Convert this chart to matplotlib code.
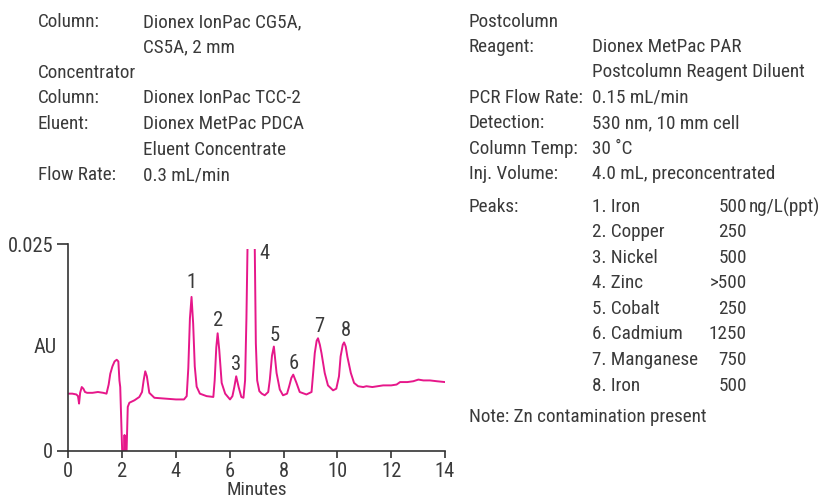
import matplotlib
matplotlib.use("Agg")
import matplotlib.pyplot as plt
from matplotlib import font_manager
from matplotlib.patches import Rectangle

# pick the narrowest available sans family
available = {f.name for f in font_manager.fontManager.ttflist}
family = "DejaVu Sans"
for cand in ["Liberation Sans Narrow", "Roboto Condensed", "Open Sans Condensed",
             "Noto Sans Condensed", "Roboto", "Liberation Sans"]:
    if cand in available:
        family = cand
        break
plt.rcParams['font.family'] = [family, 'DejaVu Sans']

# ---- chromatogram trace (minutes, AU) ----
time_min = [0.00, 0.15, 0.30, 0.36, 0.40, 0.44, 0.50, 0.56, 0.62, 0.70, 0.90, 1.10, 1.30, 1.42,
            1.50, 1.56, 1.64, 1.72, 1.80, 1.86, 1.90, 1.93, 2.02, 2.06, 2.09, 2.12, 2.15, 2.21,
            2.27, 2.46, 2.64, 2.74, 2.80, 2.86, 2.92, 3.01, 3.20, 3.60, 4.00, 4.30, 4.40,
            4.46, 4.52, 4.58, 4.64, 4.70, 4.77, 4.89, 5.14, 5.39, 5.44, 5.50, 5.55, 5.61,
            5.70, 5.83, 6.01, 6.10, 6.17, 6.24, 6.33, 6.43, 6.51, 6.57, 6.62, 6.66, 6.72,
            6.80, 6.88, 6.93, 6.97, 7.02, 7.10, 7.19, 7.30, 7.43, 7.49, 7.57, 7.64, 7.74,
            7.86, 7.98, 8.13, 8.21, 8.29, 8.36, 8.48, 8.60, 8.85, 9.04, 9.10, 9.16, 9.23,
            9.28, 9.35, 9.41, 9.53, 9.65, 9.84, 9.96, 10.06, 10.12, 10.20, 10.25, 10.31,
            10.37, 10.50, 10.62, 10.77, 10.96, 11.08, 11.30, 11.50, 11.70, 12.00, 12.20,
            12.33, 12.60, 12.82, 13.01, 13.20, 13.44, 13.70, 14.00]
au = [0.0069, 0.0069, 0.0068, 0.0066, 0.0057, 0.0070, 0.0077, 0.0075, 0.0071, 0.0070, 0.0070,
      0.0071, 0.0070, 0.0069, 0.0080, 0.0093, 0.0102, 0.0108, 0.0110, 0.0108, 0.0085, 0.0077,
      -0.002, -0.002, 0.0019, -0.002, -0.002, 0.0053, 0.0058, 0.0061, 0.0065, 0.0071, 0.0085,
      0.0096, 0.0090, 0.0070, 0.0064, 0.0063, 0.0062, 0.0062, 0.0066, 0.0100, 0.0160, 0.0186,
      0.0154, 0.0102, 0.00775, 0.0069, 0.0066, 0.0065, 0.0085, 0.0125, 0.0142, 0.0122, 0.0082,
      0.0069, 0.0062, 0.0066, 0.0077, 0.0090, 0.0077, 0.0065, 0.0064, 0.0085, 0.0160, 0.0245,
      0.0350, 0.0500, 0.0350, 0.0245, 0.0130, 0.0085, 0.0072, 0.0069, 0.0067, 0.0071, 0.0086,
      0.0115, 0.0126, 0.0094, 0.0074, 0.0067, 0.0069, 0.0078, 0.0088, 0.0092, 0.0082, 0.0071,
      0.0068, 0.0071, 0.0094, 0.0118, 0.0133, 0.0136, 0.0128, 0.0118, 0.0094, 0.0079, 0.0073,
      0.0075, 0.0090, 0.0114, 0.0128, 0.0131, 0.0126, 0.0114, 0.0094, 0.0082, 0.0078, 0.0077,
      0.0078, 0.0077, 0.0078, 0.0079, 0.0079, 0.0080, 0.0083, 0.0083, 0.0084, 0.0086, 0.0085,
      0.0085, 0.0084, 0.0083]

# ---- peak labels ----
peak_names = ["1", "2", "3", "4", "5", "6", "7", "8"]
peak_label_t = [4.58, 5.57, 6.23, 7.30, 7.68, 8.36, 9.33, 10.32]
peak_label_au = [0.0203, 0.0157, 0.0104, 0.0239, 0.0139, 0.0106, 0.0150, 0.0145]

x_ticks = [0, 2, 4, 6, 8, 10, 12, 14]
y_ticks = [0, 0.025]
y_tick_labels = ["0", "0.025"]

# ---- condition text ----
left_labels = ["Column:", "", "Concentrator", "Column:", "Eluent:", "", "Flow Rate:"]
left_values = ["Dionex IonPac CG5A,", "CS5A, 2 mm", "", "Dionex IonPac TCC-2",
               "Dionex MetPac PDCA", "Eluent Concentrate", "0.3 mL/min"]
left_rows_y = [22, 47, 73, 98, 124, 150, 175]

right_labels = ["Postcolumn", "Reagent:", "", "PCR Flow Rate:", "Detection:", "Column Temp:",
                "Inj. Volume:", "Peaks:"]
right_values = ["", "Dionex MetPac PAR", "Postcolumn Reagent Diluent", "0.15 mL/min",
                "530 nm, 10 mm cell", "30 \u02daC", "4.0 mL, preconcentrated", ""]
right_rows_y = [22, 47, 72, 98, 123, 149, 174, 207]

peak_list = ["1. Iron", "2. Copper", "3. Nickel", "4. Zinc", "5. Cobalt", "6. Cadmium",
             "7. Manganese", "8. Iron"]
peak_amounts = ["500", "250", "500", ">500", "250", "1250", "750", "500"]
peak_rows_y = [207, 232, 258, 283, 309, 334, 360, 386]
amount_unit = "ng/L(ppt)"
note_text = "Note: Zn contamination present"

W, H = 820, 498
fig = plt.figure(figsize=(W / 100, H / 100), dpi=100)
fig.patch.set_facecolor("white")

# size the text so that a reference string has the width it has in the picture (159 px)
renderer = fig.canvas.get_renderer()
probe = fig.text(0, 0, "Dionex IonPac CG5A,", fontsize=10)
w10 = probe.get_window_extent(renderer).width
probe.remove()
fs = min(15.0, 10 * 159.0 / w10)

ax = fig.add_axes([68.3 / W, 47.3 / H, (445 - 68.3) / W, (450.7 - 244) / H])
ax.set_xlim(0, 14)
ax.set_ylim(0, 0.025)

line, = ax.plot(time_min, au, color="#E6178A", lw=1.4, solid_joinstyle="round")
clip = Rectangle((0, 0), 14, 0.02437, transform=ax.transData, facecolor="none", edgecolor="none")
line.set_clip_path(clip)

txt_color = "#3a3a3a"
for name, t, a in zip(peak_names, peak_label_t, peak_label_au):
    ax.text(t, a, name, ha="center", va="center", fontsize=fs + 1, color=txt_color)

for s in ["top", "right"]:
    ax.spines[s].set_visible(False)
for s in ["left", "bottom"]:
    ax.spines[s].set_color("#333333")
    ax.spines[s].set_linewidth(1.2)
ax.set_xticks(x_ticks)
ax.set_xticklabels([str(v) for v in x_ticks])
ax.set_yticks(y_ticks)
ax.set_yticklabels(y_tick_labels)
ax.tick_params(axis="x", direction="out", length=5, width=1.2, pad=3, labelsize=fs + 1,
               colors="#333333", labelcolor=txt_color)
ax.tick_params(axis="y", direction="out", length=8, width=1.2, pad=3, labelsize=fs + 1,
               colors="#333333", labelcolor=txt_color)
ax.set_xlabel("Minutes", fontsize=fs, color=txt_color, va="top")
ax.xaxis.set_label_coords(0.5, (450.7 - 480.5) / 206.7)
ax.set_ylabel("AU", fontsize=fs + 1, color=txt_color, rotation=0, va="center", ha="center")
ax.yaxis.set_label_coords(-0.061, 0.5)


def ftext(x, y, s, **kw):
    fig.text(x / W, 1 - y / H, s, fontsize=fs, color=txt_color, va="center", **kw)


for lab, val, y in zip(left_labels, left_values, left_rows_y):
    if lab:
        ftext(38, y, lab)
    if val:
        ftext(143, y, val)

for lab, val, y in zip(right_labels, right_values, right_rows_y):
    if lab:
        ftext(469, y, lab)
    if val:
        ftext(592, y, val)

for name, amt, y in zip(peak_list, peak_amounts, peak_rows_y):
    ftext(592, y, name)
    ftext(747, y, amt, ha="right")
ftext(749, peak_rows_y[0], amount_unit)
ftext(469, 417, note_text)

fig.savefig("out.png", dpi=100, facecolor="white")
